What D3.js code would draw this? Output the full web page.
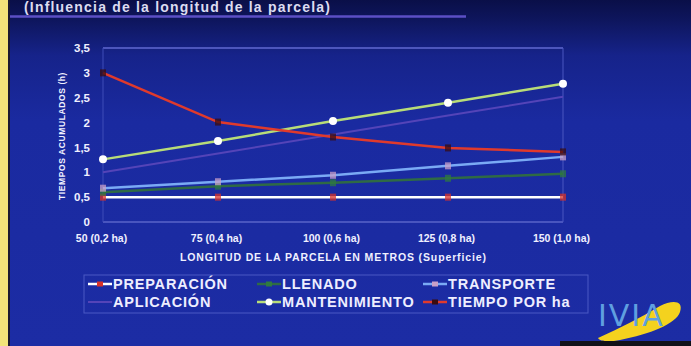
<!DOCTYPE html>
<html>
<head>
<meta charset="utf-8">
<script src="https://cdn.jsdelivr.net/npm/d3@7"></script>
<style>
  body { margin: 0; background: #1a2a9c; }
  svg { display: block; font-family: "Liberation Sans", Arial, sans-serif; }
</style>
</head>
<body>
<svg id="chart" width="691" height="346"></svg>
<script>
// data
var categories = ["50 (0,2 ha)", "75 (0,4 ha)", "100 (0,6 ha)", "125 (0,8 ha)", "150 (1,0 ha)"];
var preparacion = [0.5, 0.5, 0.5, 0.5, 0.5];
var llenado = [0.6, 0.72, 0.79, 0.88, 0.97];
var transporte = [0.68, 0.81, 0.94, 1.13, 1.31];
var aplicacion = [1.0, 1.38, 1.76, 2.14, 2.52];
var mantenimiento = [1.26, 1.63, 2.03, 2.4, 2.78];
var tiempoHa = [3.0, 2.01, 1.71, 1.49, 1.41];
var yTicks = [0, 0.5, 1, 1.5, 2, 2.5, 3, 3.5];

var series = [
    { name: "PREPARACIÓN", values: preparacion, color: "#ffffff", mark: "#d8322a", shape: "rect", w: 2.5 },
    { name: "LLENADO", values: llenado, color: "#2f6a45", mark: "#2f7a40", shape: "rect", w: 2.5 },
    { name: "TRANSPORTE", values: transporte, color: "#7aaaf5", mark: "#c8a0c8", shape: "rect", w: 2.5 },
    { name: "APLICACIÓN", values: aplicacion, color: "#5444b8", mark: "#5444b8", shape: "none", w: 2 },
    { name: "MANTENIMIENTO", values: mantenimiento, color: "#b8dc78", mark: "#ffffff", shape: "circle", w: 2.5 },
    { name: "TIEMPO POR ha", values: tiempoHa, color: "#e03a2c", mark: "#3a0c10", shape: "rect", w: 2.5 }
];

var svg = d3.select("#chart");
var margin = { top: 48, right: 128, bottom: 124, left: 103 };
var width = 691, height = 346;

// background
var defs = svg.append("defs");
var grad = defs.append("linearGradient").attr("id", "bg").attr("x1", 0).attr("y1", 0).attr("x2", 0).attr("y2", 1);
grad.append("stop").attr("offset", "0").attr("stop-color", "#0a0f48");
grad.append("stop").attr("offset", "0.06").attr("stop-color", "#0e165e");
grad.append("stop").attr("offset", "0.16").attr("stop-color", "#16238a");
grad.append("stop").attr("offset", "0.35").attr("stop-color", "#1a2aa0");
grad.append("stop").attr("offset", "1").attr("stop-color", "#1c2ca4");
svg.append("rect").attr("width", width).attr("height", height).attr("fill", "url(#bg)");

// yellow strip on the left
svg.append("rect").attr("x", 0).attr("y", 0).attr("width", 8).attr("height", height).attr("fill", "#f2e47a");
svg.append("rect").attr("x", 8).attr("y", 0).attr("width", 2).attr("height", height).attr("fill", "#1a1a30");

// title (mostly off the top of the slide crop)
svg.append("text")
    .attr("x", 24).attr("y", 12)
    .attr("fill", "#dcdcf0")
    .attr("font-size", 14).attr("font-weight", "bold")
    .attr("textLength", 306)
    .text("(Influencia de la longitud de la parcela)");
svg.append("line")
    .attr("x1", 10).attr("x2", 466).attr("y1", 16.5).attr("y2", 16.5)
    .attr("stroke", "#6a5ad8").attr("stroke-width", 2.5).attr("opacity", 0.85);

var x = d3.scalePoint()
    .domain(categories)
    .range([margin.left, width - margin.right]);

var y = d3.scaleLinear()
    .domain([0, 3.5])
    .range([height - margin.bottom, margin.top]);

// plot frame
var plot = svg.append("g");
plot.append("line").attr("x1", x.range()[0]).attr("x2", x.range()[1])
    .attr("y1", y(3.5)).attr("y2", y(3.5)).attr("stroke", "#6068d0").attr("stroke-width", 1.5);
plot.append("line").attr("x1", x.range()[0]).attr("x2", x.range()[1])
    .attr("y1", y(0)).attr("y2", y(0)).attr("stroke", "#5a64c8").attr("stroke-width", 1.5);
plot.append("line").attr("x1", x.range()[0]).attr("x2", x.range()[0])
    .attr("y1", y(3.5)).attr("y2", y(0)).attr("stroke", "#3e4cb8").attr("stroke-width", 1);
plot.append("line").attr("x1", x.range()[1]).attr("x2", x.range()[1])
    .attr("y1", y(3.5)).attr("y2", y(0)).attr("stroke", "#4a56c0").attr("stroke-width", 1);

// axes
var yAxis = svg.append("g")
    .attr("transform", "translate(" + (margin.left - 10) + ",0)")
    .call(d3.axisLeft(y).tickValues(yTicks).tickSize(0)
        .tickFormat(function (d) { return String(d).replace(".", ","); }));
yAxis.select(".domain").remove();
yAxis.selectAll("text")
    .attr("fill", "#f0f0ff").attr("font-size", 11.5).attr("font-weight", "bold")
    .attr("font-family", "'Liberation Sans Narrow', 'Liberation Sans', sans-serif");

var xAxis = svg.append("g")
    .attr("transform", "translate(0," + (y(0) + 10) + ")")
    .call(d3.axisBottom(x).tickSize(0));
xAxis.select(".domain").remove();
xAxis.selectAll("text")
    .attr("fill", "#f0f0ff").attr("font-size", 10.5).attr("font-weight", "bold")
    .attr("dx", -2);

svg.append("text")
    .attr("x", (x.range()[0] + x.range()[1]) / 2) .attr("y", 261)
    .attr("text-anchor", "middle")
    .attr("fill", "#f0f0ff").attr("font-size", 10.5).attr("font-weight", "bold")
    .attr("textLength", 306)
    .text("LONGITUD DE LA PARCELA EN METROS (Superficie)");

svg.append("text")
    .attr("transform", "translate(65," + (y(1.75) + 1) + ") rotate(-90)")
    .attr("text-anchor", "middle")
    .attr("fill", "#f0f0ff").attr("font-size", 8.5).attr("font-weight", "bold")
    .attr("letter-spacing", 0.6)
    .text("TIEMPOS ACUMULADOS (h)");

// lines
var line = d3.line()
    .x(function (d, i) { return x(categories[i]); })
    .y(function (d) { return y(d); });

series.forEach(function (s) {
    var g = svg.append("g");
    g.append("path")
        .datum(s.values)
        .attr("fill", "none")
        .attr("stroke", s.color)
        .attr("stroke-width", s.w)
        .attr("d", line);
    if (s.shape == "circle") {
        g.selectAll(".dot").data(s.values).enter().append("circle")
            .attr("cx", function (d, i) { return x(categories[i]); })
            .attr("cy", function (d) { return y(d); })
            .attr("r", 4)
            .attr("fill", s.mark);
    } else if (s.shape == "rect") {
        g.selectAll(".dot").data(s.values).enter().append("rect")
            .attr("x", function (d, i) { return x(categories[i]) - 3; })
            .attr("y", function (d) { return y(d) - 3.5; })
            .attr("width", 6).attr("height", 7)
            .attr("fill", s.mark).attr("opacity", 0.75);
    }
});

// legend
var legend = svg.append("g");
legend.append("rect")
    .attr("x", 84).attr("y", 275).attr("width", 504).attr("height", 38)
    .attr("fill", "none").attr("stroke", "#4a58c4").attr("stroke-width", 1);

var legendX = [88, 257, 423];
var legendY = [284, 302];
series.forEach(function (s, i) {
    var lx = legendX[i % 3], ly = legendY[Math.floor(i / 3)];
    var item = legend.append("g");
    item.append("line")
        .attr("x1", lx).attr("x2", lx + 24).attr("y1", ly).attr("y2", ly)
        .attr("stroke", s.color).attr("stroke-width", s.w);
    if (s.shape == "circle") {
        item.append("circle").attr("cx", lx + 12).attr("cy", ly).attr("r", 3.5).attr("fill", s.mark);
    } else if (s.shape == "rect") {
        item.append("rect").attr("x", lx + 9).attr("y", ly - 2.5)
            .attr("width", 6).attr("height", 5).attr("fill", s.mark);
    }
    item.append("text")
        .attr("x", lx + 25).attr("y", ly + 5)
        .attr("fill", "#eeeeff").attr("font-size", 14.5).attr("font-weight", "bold")
        .attr("letter-spacing", 0.8)
        .text(s.name);
});

// IVIA logo
var logo = svg.append("g");
logo.append("path")
    .attr("d", "M598,338 C620,328 640,318 660,306 C672,300 684,300 680,312 C676,324 650,334 620,340 C610,342 600,342 598,338 Z")
    .attr("fill", "#f4d21e");
logo.append("text")
    .attr("x", 598).attr("y", 326)
    .attr("fill", "#5f9fe0").attr("font-size", 30)
    .attr("font-family", "'DejaVu Sans', sans-serif").attr("letter-spacing", 2)
    .text("IVIA");
logo.append("rect").attr("x", 560).attr("y", 341).attr("width", 131).attr("height", 5).attr("fill", "#101018");
</script>
</body>
</html>
